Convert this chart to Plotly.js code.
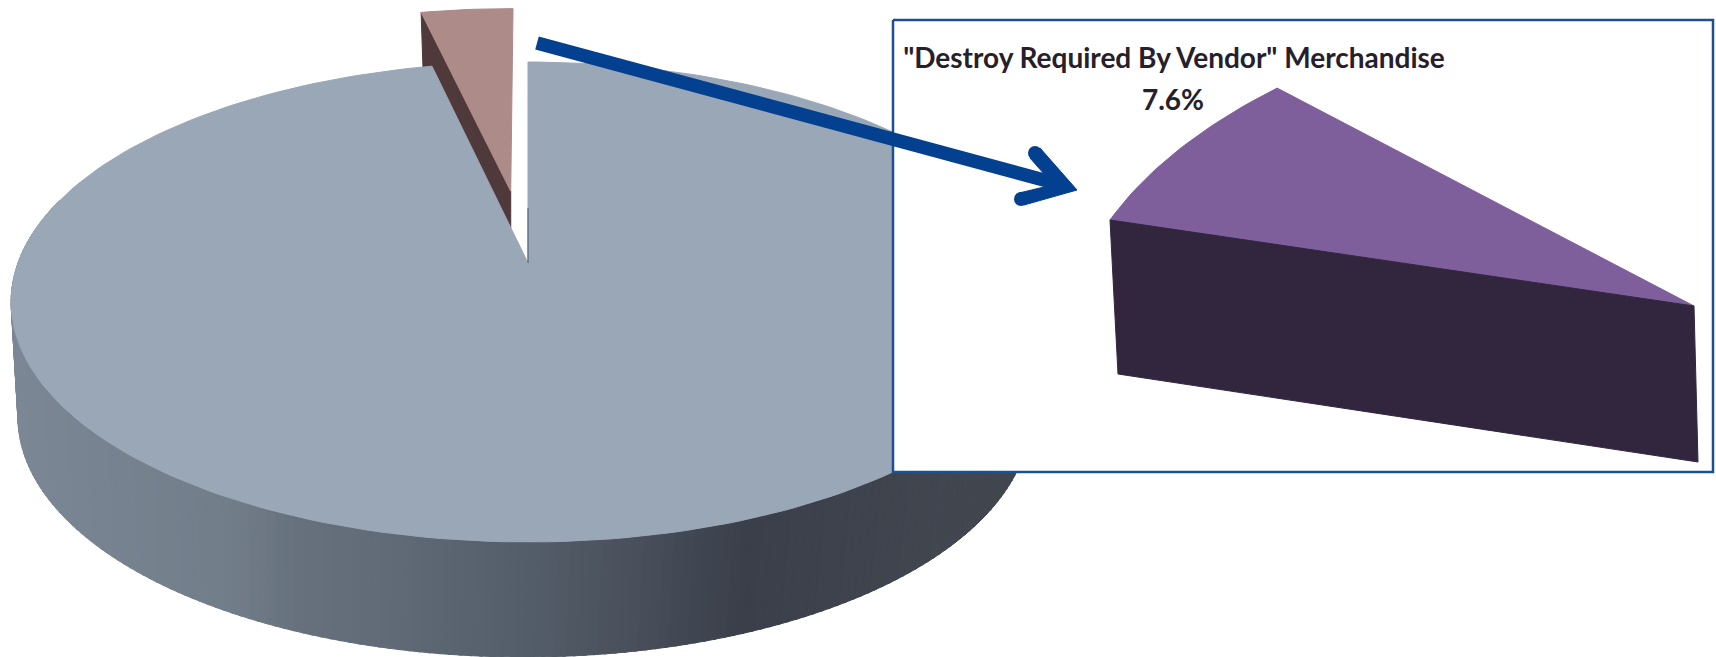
<!DOCTYPE html>
<html>
<head>
<meta charset="utf-8">
<script src="https://cdn.plot.ly/plotly-3.0.1.min.js"></script>
<style>html,body{margin:0;padding:0;background:#fff}#chart{width:1716px;height:657px}</style>
</head>
<body>
<div id="chart"></div>
<script>
// Shares of the main pie, in percent
const pieLabels = ["All other merchandise", "Pulled slice"];
const pieShares = [96.5, 3.5];
// Share called out in the inset
const insetLabel = '"Destroy Required By Vendor" Merchandise';
const insetShare = 7.6;

// Perspective of the main pie: the unit circle is mapped to the page
const pie = {cx: 528, cy: 263, kx: 510, ky: -190.9, persp: 0.1625, explode: 0.325, depth: 115, baseCx: 524, baseScale: 0.979};
// Corner vectors of the inset wedge
const wedge = {tip: [1694, 306], e1: [-584, -86], e2: [221.5, -308], drop: [4, 156], dropInner: [8, 154]};
const box = {x0: 893, y0: 20, x1: 1713, y1: 472};

const faceColor = "#9aa7b6", sliceColor = "#ac8b89", sliceWall = "#50393a";
const wedgeColor = "#7e5f9b", wedgeWall = "#32263f", navy = "#03408f";
// x position on the page and wall colour at that position
const wallStops = [[20,"#7c8795"],[237,"#727d8a"],[304,"#66717d"],[405,"#5f6a76"],[540,"#535c68"],[642,"#484f5a"],[744,"#3a3f4a"],[946,"#41464f"],[1030,"#41464f"]];

const rad = d => d * Math.PI / 180;
function project(u, v) {
  const w = 1 + pie.persp * v;
  return [pie.cx + pie.kx * u / w, (pie.ky * v + pie.cy) / w];
}
const unit = deg => [Math.sin(rad(deg)), Math.cos(rad(deg))];
function base(p) {
  return [pie.baseCx + (p[0] - pie.cx) * pie.baseScale, p[1] + pie.depth];
}
function hex(c) { return [1, 3, 5].map(i => parseInt(c.slice(i, i + 2), 16)); }
function wallColor(x) {
  for (let i = 1; i < wallStops.length; i++) {
    if (x <= wallStops[i][0]) {
      const [x0, c0] = wallStops[i - 1], [x1, c1] = wallStops[i];
      const t = Math.max(0, (x - x0) / (x1 - x0));
      const a = hex(c0), b = hex(c1);
      return "rgb(" + a.map((s, k) => Math.round(s + (b[k] - s) * t)).join(",") + ")";
    }
  }
  return wallStops[wallStops.length - 1][1];
}
function poly(points, color) {
  return {
    x: points.map(p => p[0]).concat(points[0][0]),
    y: points.map(p => p[1]).concat(points[0][1]),
    mode: "lines", fill: "toself", fillcolor: color,
    line: {color: color, width: 1}, hoverinfo: "skip", showlegend: false
  };
}

const traces = [];

// Outer wall of the main pie, split in narrow bands to shade it
const bandStep = 1;
for (let a = 76; a < 286; a += bandStep) {
  const [u0, v0] = unit(a), [u1, v1] = unit(a + bandStep + 0.3);
  const t0 = project(u0, v0), t1 = project(u1, v1);
  traces.push(poly([t0, t1, base(t1), base(t0)], wallColor(base(t0)[0])));
}

// Pulled slice: its share sets the opening angle, its wall and top are moved out along the bisector
const sliceSweep = 360 * pieShares[1] / 100;
const mid = unit(-sliceSweep / 2);
const off = [mid[0] * pie.explode, mid[1] * pie.explode];
const sliceAt = deg => { const [u, v] = unit(deg); return project(u + off[0], v + off[1]); };
const sliceTip = project(off[0], off[1]);
const sliceLeft = sliceAt(-sliceSweep);
traces.push(poly([sliceTip, sliceLeft, [sliceLeft[0] + 2, sliceLeft[1] + 60], [sliceTip[0], sliceTip[1] + 60]], sliceWall));
const sliceTop = [sliceTip];
for (let a = -sliceSweep; a <= 0.001; a += sliceSweep / 12) sliceTop.push(sliceAt(a));
traces.push(poly(sliceTop, sliceColor));

// Top face of the main pie
const apex = project(0, 0);
const face = [apex];
const mainSweep = 360 * pieShares[0] / 100;
for (let a = 0; a <= mainSweep + 0.001; a += mainSweep / 240) face.push(project(...unit(a)));
traces.push(poly(face, faceColor));

// Sliver of the inner wall along the opening
traces.push({x: [apex[0], apex[0]], y: [apex[1], apex[1] - 55], mode: "lines",
  line: {color: "#4c5866", width: 1}, hoverinfo: "skip", showlegend: false});

// Inset panel
const panel = poly([[box.x0, box.y0], [box.x1, box.y0], [box.x1, box.y1], [box.x0, box.y1]], "#ffffff");
panel.line = {color: "#1d4f91", width: 2.5};
traces.push(panel);

// Inset wedge: the called-out share sets its sweep
const sweep = rad(360 * insetShare / 100);
const wedgeAt = t => [
  wedge.tip[0] + Math.cos(t) * wedge.e1[0] + Math.sin(t) * wedge.e2[0],
  wedge.tip[1] + Math.cos(t) * wedge.e1[1] + Math.sin(t) * wedge.e2[1]
];
const wedgePts = [wedge.tip];
for (let i = 0; i <= 24; i++) wedgePts.push(wedgeAt(sweep * i / 24));
traces.push(poly(wedgePts, wedgeColor));
const corner = wedgeAt(0);
traces.push(poly([wedge.tip, corner,
  [corner[0] + wedge.dropInner[0], corner[1] + wedge.dropInner[1]],
  [wedge.tip[0] + wedge.drop[0], wedge.tip[1] + wedge.drop[1]]], wedgeWall));

// Inset texts
traces.push({
  x: [1174, 1173], y: [61, 103], mode: "text",
  text: ["<b>" + insetLabel + "</b>", "<b>" + insetShare.toFixed(1) + "%</b>"],
  textposition: "middle center",
  textfont: {family: "Lato, 'Open Sans', sans-serif", size: 28, color: "#26202a"},
  hoverinfo: "skip", showlegend: false
});

// Arrow from the pulled slice to the inset, drawn last so it lies on top
traces.push({x: [537, 1066], y: [43, 186], mode: "lines",
  line: {color: navy, width: 13.5}, hoverinfo: "skip", showlegend: false});
traces.push(poly([[1040, 148], [1077, 190], [1024, 205], [1019, 193], [1044, 187], [1045, 175], [1030, 158]], navy));
traces.push({x: [1035, 1021], y: [153, 199], mode: "markers",
  marker: {color: navy, size: 14}, hoverinfo: "skip", showlegend: false});

const hidden = {visible: false, fixedrange: true};
Plotly.newPlot("chart", traces, {
  width: 1716, height: 657,
  margin: {l: 0, r: 0, t: 0, b: 0},
  paper_bgcolor: "#ffffff", plot_bgcolor: "#ffffff",
  showlegend: false,
  xaxis: Object.assign({range: [0, 1716]}, hidden),
  yaxis: Object.assign({range: [657, 0]}, hidden)
}, {displayModeBar: false, staticPlot: true});
</script>
</body>
</html>
